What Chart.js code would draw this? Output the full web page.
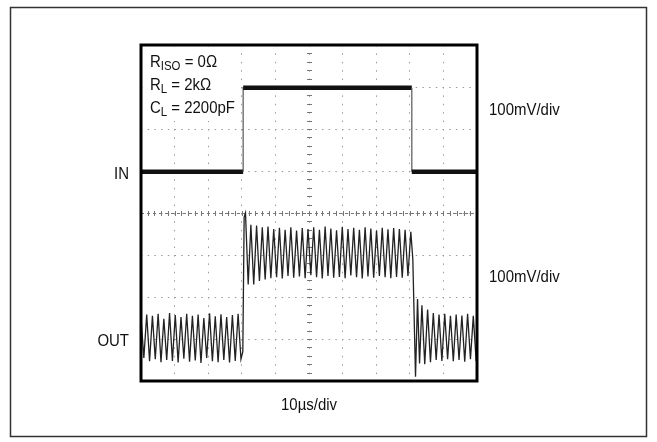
<!DOCTYPE html>
<html>
<head>
<meta charset="utf-8">
<script src="https://cdn.jsdelivr.net/npm/chart.js@4.4.1/dist/chart.umd.min.js"></script>
<style>
  html, body { margin: 0; padding: 0; background: #fff; }
  #scope { display: block; }
</style>
</head>
<body>
<canvas id="scope" width="657" height="442"></canvas>
<script>
// Scope screen: 10 x 8 divisions
const xDivs = 10;
const yDivs = 8;

// Texts
const conditions = [['R', 'ISO', ' = 0Ω'], ['R', 'L', ' = 2kΩ'], ['C', 'L', ' = 2200pF']];
const channelNames = ['IN', 'OUT'];
const voltScales = ['100mV/div', '100mV/div'];
const timeScale = '10µs/div';

// IN trace (divisions)
const inTimes = [0, 3.04, 3.04, 8.06, 8.06, 10];
const inLevels = [4.98, 4.98, 6.98, 6.98, 4.98, 4.98];

// OUT trace, ringing read peak by peak (sample step in divisions)
const ringStep = 0.085;
const outLowStart = 0;
const outLow = [1.50, 0.55, 1.58, 0.47, 1.55, 0.52, 1.60, 0.45, 1.48, 0.50, 1.62, 0.48,
  1.57, 0.44, 1.52, 0.53, 1.60, 0.46, 1.55, 0.49, 1.58, 0.43, 1.50, 0.55,
  1.61, 0.47, 1.54, 0.45, 1.59, 0.50, 1.52, 0.44, 1.57, 0.48, 1.60, 0.52];
const outRiseT = [3.03, 3.07, 3.11, 3.19];
const outRiseV = [0.70, 3.90, 4.00, 2.30];
const outHighStart = 3.27;
const outHigh = [3.72, 2.30, 3.70, 2.38, 3.66, 2.42, 3.68, 2.45, 3.62, 2.47, 3.65, 2.44,
  3.60, 2.50, 3.66, 2.46, 3.58, 2.49, 3.64, 2.45, 3.62, 2.52, 3.66, 2.47,
  3.60, 2.44, 3.68, 2.50, 3.63, 2.46, 3.59, 2.48, 3.67, 2.45, 3.62, 2.51,
  3.65, 2.47, 3.60, 2.44, 3.66, 2.49, 3.63, 2.46, 3.58, 2.50, 3.65, 2.47,
  3.61, 2.45, 3.64, 2.48, 3.62, 2.46, 3.60, 2.50];
const outFallT = [8.03, 8.09, 8.17, 8.23, 8.29];
const outFallV = [3.55, 2.90, 0.10, 1.95, 0.42];
const outTailStart = 8.36;
const outTail = [1.80, 0.40, 1.70, 0.45, 1.62, 0.50, 1.58, 0.48, 1.60, 0.52,
  1.55, 0.47, 1.58, 0.50, 1.56, 0.46, 1.60, 0.52, 1.55, 0.48];

function ring(start, values) {
    return values.map((v, i) => ({ x: start + i * ringStep, y: v }));
}
function pairs(ts, vs) {
    return ts.map((t, i) => ({ x: t, y: vs[i] }));
}

const inData = pairs(inTimes, inLevels);
const outData = [].concat(
    ring(outLowStart, outLow),
    pairs(outRiseT, outRiseV),
    ring(outHighStart, outHigh),
    pairs(outFallT, outFallV),
    ring(outTailStart, outTail)
);

const FONT = '"Liberation Sans", Arial, sans-serif';
const SQUEEZE = 0.88;

// condensed text helper
function drawText(ctx, str, x, y, size, align) {
    ctx.save();
    ctx.font = size + 'px ' + FONT;
    const w = ctx.measureText(str).width * SQUEEZE;
    let x0 = x;
    if (align === 'right') x0 = x - w;
    if (align === 'center') x0 = x - w / 2;
    ctx.translate(x0, y);
    ctx.scale(SQUEEZE, 1);
    ctx.textAlign = 'left';
    ctx.textBaseline = 'alphabetic';
    ctx.fillStyle = '#111';
    ctx.fillText(str, 0, 0);
    ctx.restore();
    return w;
}

const scopeDecor = {
    id: 'scopeDecor',
    beforeDatasetsDraw(chart) {
        const ctx = chart.ctx;
        const a = chart.chartArea;
        const xs = chart.scales.x, ys = chart.scales.y;
        const cx = xs.getPixelForValue(xDivs / 2);
        const cy = ys.getPixelForValue(yDivs / 2);
        ctx.save();
        // white box behind the conditions
        ctx.fillStyle = '#fff';
        ctx.fillRect(a.left + 2, a.top + 2, 96, 74);
        // center cross with minor ticks
        ctx.strokeStyle = '#777';
        ctx.lineWidth = 1;
        ctx.setLineDash([3, 3]);
        ctx.beginPath();
        ctx.moveTo(a.left, cy + 0.5); ctx.lineTo(a.right, cy + 0.5);
        ctx.stroke();
        ctx.setLineDash([]);
        ctx.beginPath();
        for (let i = 1; i < xDivs * 5; i++) {
            const px = Math.round(xs.getPixelForValue(i / 5)) + 0.5;
            ctx.moveTo(px, cy - 2); ctx.lineTo(px, cy + 3);
        }
        for (let i = 1; i < yDivs * 5; i++) {
            const py = Math.round(ys.getPixelForValue(i / 5)) + 0.5;
            if (py < a.top + 78 && cx < a.left + 100) continue;
            ctx.moveTo(cx - 2, py); ctx.lineTo(cx + 3, py);
        }
        ctx.stroke();
        ctx.restore();
    },
    afterDraw(chart) {
        const ctx = chart.ctx;
        const a = chart.chartArea;
        const ys = chart.scales.y;
        const xs = chart.scales.x;
        ctx.save();
        // outer frame
        ctx.strokeStyle = '#333';
        ctx.lineWidth = 1.5;
        ctx.strokeRect(10.5, 7.5, 636, 429);
        // screen frame
        ctx.strokeStyle = '#000';
        ctx.lineWidth = 3;
        ctx.strokeRect(a.left, a.top, a.right - a.left, a.bottom - a.top);
        ctx.restore();

        // test conditions
        conditions.forEach((c, i) => {
            const y = a.top + 22 + i * 23;
            let x = a.left + 9;
            x += drawText(ctx, c[0], x, y, 17);
            x += drawText(ctx, c[1], x, y + 3, 13);
            drawText(ctx, c[2], x, y, 17);
        });
        // channel names
        drawText(ctx, channelNames[0], a.left - 12, ys.getPixelForValue(inLevels[0]) + 7, 17, 'right');
        drawText(ctx, channelNames[1], a.left - 12, ys.getPixelForValue(1.0) + 7, 17, 'right');
        // volts per div
        drawText(ctx, voltScales[0], a.right + 12, ys.getPixelForValue(6.48) + 6, 17);
        drawText(ctx, voltScales[1], a.right + 12, ys.getPixelForValue(2.49) + 6, 17);
        // time per div
        drawText(ctx, timeScale, xs.getPixelForValue(xDivs / 2), a.bottom + 29, 17, 'center');
    }
};

new Chart(document.getElementById('scope').getContext('2d'), {
    type: 'line',
    data: {
        datasets: [
            {
                label: 'IN',
                data: inData,
                borderColor: '#111',
                borderWidth: 4.5,
                pointRadius: 0,
                tension: 0,
                segment: {
                    borderWidth: c => (c.p0.parsed.x === c.p1.parsed.x ? 1.2 : 4.5),
                    borderColor: c => (c.p0.parsed.x === c.p1.parsed.x ? '#555' : '#111')
                }
            },
            {
                label: 'OUT',
                data: outData,
                borderColor: '#222',
                borderWidth: 1.3,
                pointRadius: 0,
                tension: 0
            }
        ]
    },
    options: {
        responsive: false,
        animation: false,
        devicePixelRatio: 1,
        layout: { padding: { left: 141, right: 180, top: 45, bottom: 61 } },
        plugins: { legend: { display: false }, tooltip: { enabled: false } },
        scales: {
            x: {
                type: 'linear',
                min: 0,
                max: xDivs,
                ticks: { display: false, stepSize: 1 },
                grid: { color: '#9a9a9a', lineWidth: 1, drawTicks: false },
                border: { display: false, dash: [1.5, 6.9] }
            },
            y: {
                type: 'linear',
                min: 0,
                max: yDivs,
                ticks: { display: false, stepSize: 1 },
                grid: { color: '#9a9a9a', lineWidth: 1, drawTicks: false },
                border: { display: false, dash: [1.5, 5.2] }
            }
        }
    },
    plugins: [scopeDecor]
});
</script>
</body>
</html>
